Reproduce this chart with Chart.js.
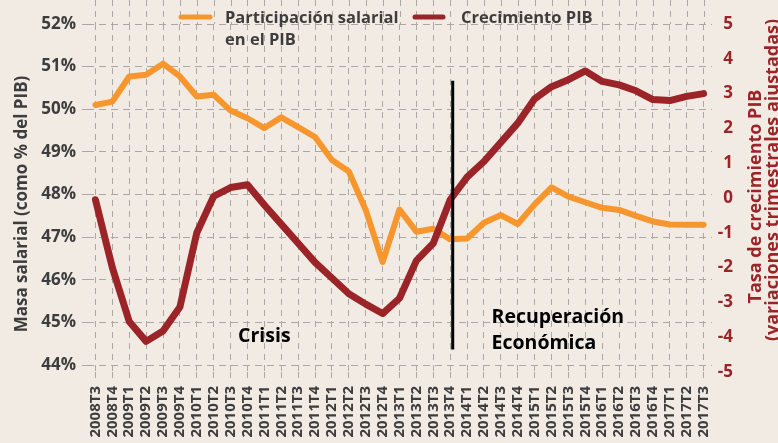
<!DOCTYPE html>
<html><head><meta charset="utf-8">
<script src="https://cdn.jsdelivr.net/npm/chart.js@4.4.1/dist/chart.umd.min.js"></script>
<style>html,body{margin:0;padding:0;background:#f1ebe4;overflow:hidden}#wrap{width:778px;height:443px;position:relative}</style>
</head><body><div id="wrap"><canvas id="c" width="778" height="443"></canvas></div>
<script>
const categories = ['2008T3','2008T4',
 '2009T1','2009T2','2009T3','2009T4',
 '2010T1','2010T2','2010T3','2010T4',
 '2011T1','2011T2','2011T3','2011T4',
 '2012T1','2012T2','2012T3','2012T4',
 '2013T1','2013T2','2013T3','2013T4',
 '2014T1','2014T2','2014T3','2014T4',
 '2015T1','2015T2','2015T3','2015T4',
 '2016T1','2016T2','2016T3','2016T4',
 '2017T1','2017T2','2017T3'];
const wageShare = [50.10,50.18,50.77,50.81,51.07,50.77,50.30,50.34,49.97,49.79,
 49.56,49.81,49.58,49.35,48.81,48.54,47.64,46.42,47.65,47.13,
 47.20,46.95,46.97,47.34,47.52,47.31,47.77,48.17,47.95,47.82,
 47.69,47.64,47.50,47.37,47.30,47.29,47.29];
const gdpGrowth = [-0.05,-2.0,-3.55,-4.12,-3.82,-3.13,-1.0,0.05,0.30,0.38,
 -0.2,-0.75,-1.3,-1.85,-2.3,-2.75,-3.05,-3.32,-2.88,-1.8,
 -1.3,-0.05,0.6,1.05,1.6,2.15,2.85,3.2,3.4,3.65,
 3.35,3.25,3.08,2.83,2.8,2.92,3.0];
const leftTickValues = [44,45,46,47,48,49,50,51,52];
const rightTickValues = [-5,-4,-3,-2,-1,0,1,2,3,4,5];
const seriesNames = ['Participación salarial', 'Crecimiento PIB'];

const ORANGE = '#f7962d', RED = '#9b2428', TXT = '#3d3d3d', GRID = '#aba7a2';
Chart.defaults.font.family = "'Open Sans', sans-serif";

const extras = {
  id: 'extras',
  beforeDatasetsDraw(chart) {
    const ctx = chart.ctx, x = chart.scales.x, top = chart.chartArea.top;
    ctx.save();
    ctx.strokeStyle = GRID; ctx.lineWidth = 1; ctx.setLineDash([6,5]);
    for (let i = 0; i < categories.length; i++) {
      const px = Math.round(x.getPixelForTick(i)) + 0.5;
      ctx.beginPath(); ctx.moveTo(px, 0); ctx.lineTo(px, top); ctx.stroke();
    }
    ctx.restore();
  },
  afterDatasetsDraw(chart) {
    const ctx = chart.ctx, x = chart.scales.x, y1 = chart.scales.y1;
    ctx.save();
    const lx = x.getPixelForValue(21.15);
    ctx.strokeStyle = '#000'; ctx.lineWidth = 3;
    ctx.beginPath(); ctx.moveTo(lx, y1.getPixelForValue(3.37)); ctx.lineTo(lx, y1.getPixelForValue(-4.35)); ctx.stroke();
    ctx.fillStyle = '#000';
    ctx.font = "bold 19.5px 'Open Sans', sans-serif";
    ctx.textBaseline = 'middle';
    ctx.textAlign = 'center';
    ctx.fillText('Crisis', x.getPixelForValue(10), y1.getPixelForValue(-3.97));
    ctx.textAlign = 'left';
    ctx.fillText('Recuperación', x.getPixelForValue(23.45), y1.getPixelForValue(-3.42));
    ctx.fillText('Económica', x.getPixelForValue(23.45), y1.getPixelForValue(-4.17));
    ctx.restore();
  },
  afterDraw(chart) {
    const ctx = chart.ctx;
    ctx.save();
    ctx.fillStyle = TXT; ctx.font = "bold 17px 'Open Sans', sans-serif";
    ctx.textAlign = 'center'; ctx.textBaseline = 'middle';
    ctx.save(); ctx.translate(22, 204); ctx.rotate(-Math.PI/2);
    ctx.fillText('Masa salarial (como % del PIB)', 0, 0); ctx.restore();
    ctx.fillStyle = RED; ctx.font = "bold 18px 'Open Sans', sans-serif";
    ctx.save(); ctx.translate(756, 196.5); ctx.rotate(-Math.PI/2);
    ctx.fillText('Tasa de crecimiento PIB', 0, 0); ctx.restore();
    ctx.save(); ctx.translate(773, 180); ctx.rotate(-Math.PI/2);
    ctx.fillText('(variaciones trimestrales ajustadas)', 0, 0); ctx.restore();
    ctx.lineCap = 'round'; ctx.lineWidth = 5;
    ctx.strokeStyle = ORANGE; ctx.beginPath(); ctx.moveTo(181, 17); ctx.lineTo(210, 17); ctx.stroke();
    ctx.strokeStyle = RED; ctx.beginPath(); ctx.moveTo(415, 17); ctx.lineTo(443, 17); ctx.stroke();
    ctx.fillStyle = TXT; ctx.font = "bold 16.5px 'Open Sans', sans-serif";
    ctx.textAlign = 'left';
    ctx.fillText(seriesNames[0], 225, 18);
    ctx.fillText('en el PIB', 225, 40);
    ctx.fillText(seriesNames[1], 461, 18);
    ctx.restore();
  }
};

new Chart(document.getElementById('c'), {
  type: 'line',
  data: {
    labels: categories,
    datasets: [
      { label: seriesNames[0] + ' en el PIB', data: wageShare, yAxisID: 'y', borderColor: ORANGE, backgroundColor: ORANGE,
        borderWidth: 6, pointRadius: 0, tension: 0, borderCapStyle: 'round', borderJoinStyle: 'round', order: 1 },
      { label: seriesNames[1], data: gdpGrowth, yAxisID: 'y1', borderColor: RED, backgroundColor: RED,
        borderWidth: 7, pointRadius: 0, tension: 0, borderCapStyle: 'round', borderJoinStyle: 'round', order: 0 }
    ]
  },
  options: {
    responsive: false, animation: false, devicePixelRatio: 1,
    layout: { padding: { top: 24, left: 0, right: 45, bottom: 0 } },
    plugins: { legend: { display: false }, tooltip: { enabled: false } },
    scales: {
      x: {
        offset: true,
        afterFit: s => { s.height = 71; },
        grid: { color: GRID, lineWidth: 1, tickLength: 6, tickColor: GRID, drawTicks: true },
        border: { display: false, dash: [6,5] },
        ticks: { color: TXT, font: { size: 15, weight: 'bold' }, minRotation: 90, maxRotation: 90, autoSkip: false, padding: 8 }
      },
      y: {
        position: 'left', min: 43.84, max: 52,
        afterFit: s => { s.width = 87; },
        afterBuildTicks: s => { s.ticks = leftTickValues.map(v => ({ value: v })); },
        grid: { color: GRID, lineWidth: 1, tickLength: 5, tickColor: GRID },
        border: { display: false, dash: [7,5] },
        ticks: { color: TXT, font: { size: 17, weight: 'bold' }, padding: 6, callback: v => v + '%' }
      },
      y1: {
        position: 'right', min: -5, max: 5,
        afterFit: s => { s.width = 21; },
        afterBuildTicks: s => { s.ticks = rightTickValues.map(v => ({ value: v })); },
        grid: { display: false, drawTicks: false },
        border: { display: false },
        ticks: { color: RED, font: { size: 17, weight: 'bold' }, padding: 5, crossAlign: 'far' }
      }
    }
  },
  plugins: [extras]
});
</script></body></html>
